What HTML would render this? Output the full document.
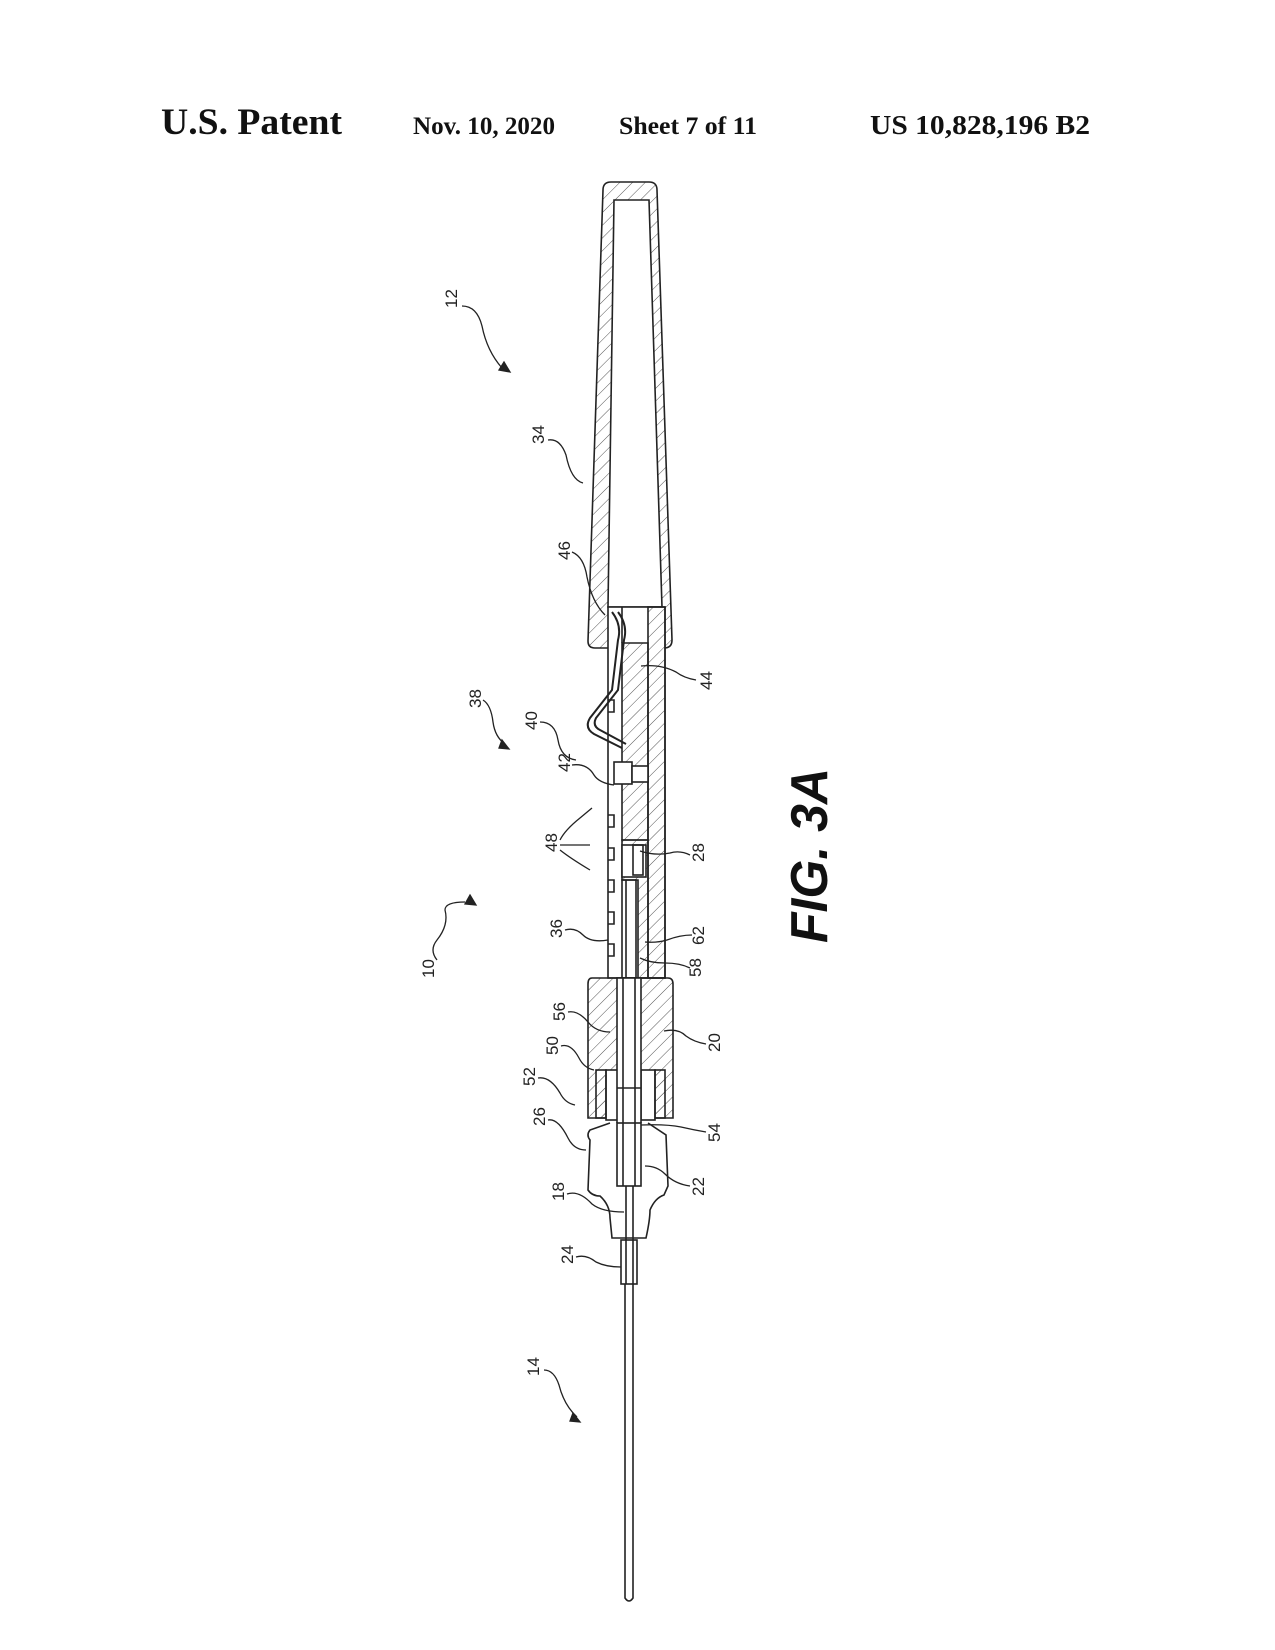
<!DOCTYPE html>
<html><head><meta charset="utf-8"><style>
html,body{margin:0;padding:0;background:#fff;}
svg{display:block;}
.h{font-family:"Liberation Serif",serif;font-weight:bold;fill:#111;}
.l{font-family:"Liberation Sans",sans-serif;font-size:17px;fill:#222;}
</style></head><body>
<svg width="1275" height="1650" viewBox="0 0 1275 1650" xmlns="http://www.w3.org/2000/svg">
<defs>
<pattern id="hat" width="9" height="9" patternUnits="userSpaceOnUse" patternTransform="rotate(45)">
<line x1="0" y1="0" x2="0" y2="9" stroke="#555" stroke-width="1"/>
</pattern>
</defs>
<text class="h" x="161" y="134" font-size="37" textLength="181" lengthAdjust="spacingAndGlyphs">U.S. Patent</text>
<text class="h" x="413" y="134" font-size="25" textLength="142" lengthAdjust="spacingAndGlyphs">Nov. 10, 2020</text>
<text class="h" x="619" y="134" font-size="25" textLength="138" lengthAdjust="spacingAndGlyphs">Sheet 7 of 11</text>
<text class="h" x="870" y="134" font-size="27" textLength="220" lengthAdjust="spacingAndGlyphs">US 10,828,196 B2</text>

<g fill="none" stroke="#222" stroke-width="1.6">
<!-- cap 34 -->
<path d="M603,190 Q603,182 611,182 L649,182 Q657,182 657,190 L672,640 Q672,648 664,648 L595,648 Q588,648 588,641 Z" fill="url(#hat)"/>
<path d="M614,200 L649,200 L662,607 L608,607 Z" fill="#fff"/>
<!-- body -->
<rect x="608" y="607" width="57" height="371" fill="#fff"/>
<path d="M625,643 L648,643 L648,840 L622,840 L622,643 Z" fill="url(#hat)"/>
<rect x="648" y="607" width="17" height="371" fill="url(#hat)"/>
<line x1="622" y1="607" x2="622" y2="643"/>
<path d="M622,840 L648,840 L648,978 L638,978 L638,880 L622,880 Z" fill="url(#hat)"/>
<rect x="622" y="845" width="24" height="32" fill="#fff"/>
<rect x="633" y="845" width="10" height="30"/>
<rect x="622" y="880" width="14" height="98"/>
<line x1="626" y1="880" x2="626" y2="978"/>
<!-- wire 40 -->
<path d="M612,612 Q622,625 618,640 L612,690 L590,718 Q584,728 594,734 L622,748" stroke-width="2"/>
<path d="M618,612 Q628,625 624,640 L618,690 L596,718 Q592,726 600,730 L626,744" stroke-width="2"/>
<rect x="614" y="762" width="18" height="22" fill="#fff"/>
<rect x="632" y="766" width="16" height="16" fill="#fff"/>
<!-- bumps 48 -->
<path d="M608,815 h6 v12 h-6 M608,848 h6 v12 h-6 M608,880 h6 v12 h-6 M608,912 h6 v12 h-6 M608,944 h6 v12 h-6 M608,700 h6 v12 h-6"/>
<!-- hub 20 -->
<path d="M592,978 L668,978 Q673,978 673,984 L673,1118 L588,1118 L588,984 Q588,978 592,978 Z" fill="url(#hat)"/>
<rect x="606" y="1070" width="14" height="50" fill="#fff"/>
<rect x="641" y="1070" width="14" height="50" fill="#fff"/>
<rect x="596" y="1070" width="10" height="48" fill="url(#hat)"/>
<rect x="655" y="1070" width="10" height="48" fill="url(#hat)"/>
<rect x="617" y="978" width="24" height="208" fill="#fff"/>
<line x1="623" y1="978" x2="623" y2="1186"/>
<line x1="635" y1="978" x2="635" y2="1186"/>
<line x1="617" y1="1088" x2="641" y2="1088"/>
<!-- 26 / 18 -->
<path d="M610,1123 L590,1130 Q586,1135 590,1140 L588,1190 Q592,1196 600,1196 Q610,1205 610,1218 L612,1238 L646,1238 Q650,1220 650,1210 Q655,1198 664,1195 L668,1186 L666,1135 L648,1123" fill="#fff"/>
<rect x="617" y="1123" width="24" height="63" fill="#fff"/>
<line x1="623" y1="1123" x2="623" y2="1186"/>
<line x1="635" y1="1123" x2="635" y2="1186"/>
<line x1="626" y1="1186" x2="626" y2="1240"/>
<line x1="633" y1="1186" x2="633" y2="1240"/>
<!-- cannula 24 -->
<rect x="621" y="1240" width="16" height="44" fill="#fff"/>
<line x1="626" y1="1240" x2="626" y2="1284"/>
<line x1="633" y1="1240" x2="633" y2="1284"/>
<!-- needle -->
<path d="M625,1284 L625,1598 Q629,1604 633,1598 L633,1284"/>
</g>

<!-- leaders -->
<g fill="none" stroke="#222" stroke-width="1.3">
<path d="M462,306 q15,0 20,20 q5,25 20,42"/><path d="M504,362 l6,10 l-11,-2 z" fill="#222"/>
<path d="M548,440 q12,-2 18,15 q5,25 17,28"/>
<path d="M572,552 q12,5 15,25 q5,25 18,38"/>
<path d="M483,700 q8,5 10,22 q2,15 12,22"/><path d="M502,740 l7,9 l-10,-1 z" fill="#222"/>
<path d="M540,722 q15,0 18,18 q3,18 18,20"/>
<path d="M572,765 q15,-2 22,10 q5,8 20,10"/>
<path d="M696,680 q-12,-2 -20,-8 q-15,-8 -35,-6"/>
<path d="M560,840 q5,-10 20,-22 l12,-10 M560,845 l30,0 M560,850 q10,8 30,20"/>
<path d="M690,855 q-10,-5 -20,-2 q-15,3 -30,-2"/>
<path d="M565,930 q10,-3 18,5 q8,8 25,5"/>
<path d="M692,935 q-12,0 -25,5 q-10,3 -22,2"/>
<path d="M690,968 q-10,-5 -25,-5 q-15,0 -25,-5"/>
<path d="M437,960 q-8,-10 0,-20 q12,-15 8,-30 q0,-8 20,-8"/><path d="M470,895 l6,10 l-11,-1 z" fill="#222"/>
<path d="M568,1012 q10,-2 20,10 q8,10 22,10"/>
<path d="M561,1046 q10,-3 18,12 q5,10 15,12"/>
<path d="M538,1078 q12,-2 22,15 q5,10 15,12"/>
<path d="M706,1044 q-12,-2 -20,-8 q-8,-8 -22,-5"/>
<path d="M548,1120 q10,-2 20,18 q6,12 18,12"/>
<path d="M706,1132 q-12,-2 -25,-5 q-15,-3 -40,-2"/>
<path d="M567,1194 q12,-4 25,10 q10,8 32,8"/>
<path d="M690,1186 q-15,-2 -25,-12 q-8,-8 -20,-8"/>
<path d="M576,1257 q10,-3 20,5 q10,5 25,5"/>
<path d="M544,1370 q10,0 15,15 q5,20 18,32"/><path d="M573,1413 l7,9 l-10,-1 z" fill="#222"/>
</g>

<g class="l">
<text transform="translate(457,308) rotate(-90)">12</text>
<text transform="translate(544,444) rotate(-90)">34</text>
<text transform="translate(570,560) rotate(-90)">46</text>
<text transform="translate(481,708) rotate(-90)">38</text>
<text transform="translate(537,730) rotate(-90)">40</text>
<text transform="translate(570,772) rotate(-90)">42</text>
<text transform="translate(712,690) rotate(-90)">44</text>
<text transform="translate(557,852) rotate(-90)">48</text>
<text transform="translate(704,862) rotate(-90)">28</text>
<text transform="translate(562,938) rotate(-90)">36</text>
<text transform="translate(704,945) rotate(-90)">62</text>
<text transform="translate(701,977) rotate(-90)">58</text>
<text transform="translate(434,978) rotate(-90)">10</text>
<text transform="translate(565,1021) rotate(-90)">56</text>
<text transform="translate(558,1055) rotate(-90)">50</text>
<text transform="translate(535,1086) rotate(-90)">52</text>
<text transform="translate(720,1052) rotate(-90)">20</text>
<text transform="translate(545,1126) rotate(-90)">26</text>
<text transform="translate(720,1142) rotate(-90)">54</text>
<text transform="translate(564,1201) rotate(-90)">18</text>
<text transform="translate(704,1196) rotate(-90)">22</text>
<text transform="translate(573,1264) rotate(-90)">24</text>
<text transform="translate(539,1376) rotate(-90)">14</text>
</g>
<text transform="translate(827,943) rotate(-90)" font-family="Liberation Sans,sans-serif" font-weight="bold" font-style="italic" font-size="52" fill="#111" textLength="175" lengthAdjust="spacingAndGlyphs">FIG. 3A</text>
</svg>
</body></html>
